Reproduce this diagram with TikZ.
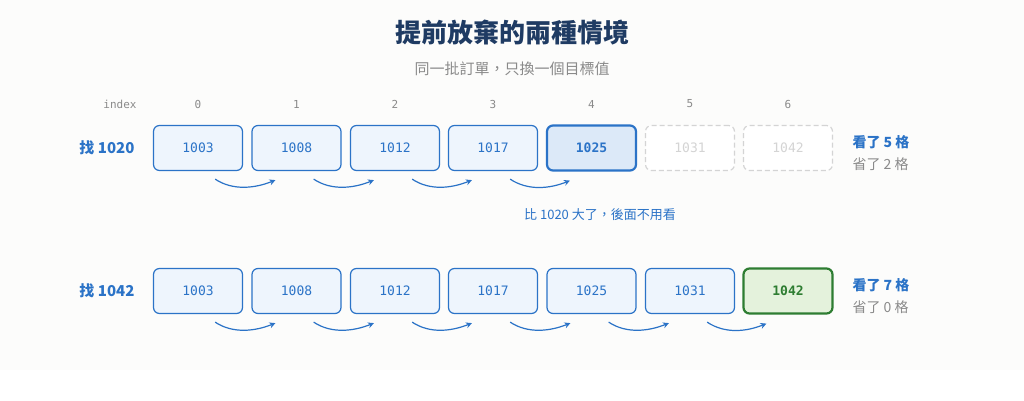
\documentclass[tikz,border=0pt]{standalone}
\usepackage{fontspec}
\setmainfont{Noto Sans CJK TC}
\setmonofont{DejaVu Sans Mono}
\usetikzlibrary{arrows.meta}
\definecolor{blu}{HTML}{2B73C7}
\definecolor{bfill}{HTML}{EEF5FD}
\definecolor{bfill2}{HTML}{DCE9F8}
\definecolor{gfill}{HTML}{E4F2DC}
\definecolor{grn}{HTML}{2E7D32}
\definecolor{gry}{HTML}{8A8A8A}
\definecolor{ghost}{HTML}{D4D4D4}
\definecolor{navy}{HTML}{1F3B63}
\definecolor{canvas}{HTML}{FCFCFB}
\begin{document}
\begin{tikzpicture}[x=1pt,y=-1pt,
 cell/.style={draw=blu,line width=1.2pt,fill=bfill,rounded corners=6pt,minimum width=89pt,minimum height=45pt,font=\ttfamily\fontsize{13}{13}\selectfont,text=blu},
 hit/.style={cell,fill=bfill2,line width=2.2pt,font=\ttfamily\bfseries\fontsize{13}{13}\selectfont},
 found/.style={cell,draw=grn,fill=gfill,text=grn,line width=2.2pt,font=\ttfamily\bfseries\fontsize{13}{13}\selectfont},
 skip/.style={cell,draw=ghost,fill=white,text=ghost,dashed,dash pattern=on 5pt off 3pt},
 idx/.style={font=\ttfamily\fontsize{11}{11}\selectfont,text=gry},
 lab/.style={font=\bfseries\fontsize{15}{15}\selectfont,text=blu,anchor=east},
 hop/.style={draw=blu,line width=1.2pt,-{Stealth[length=6pt,width=6pt]}},
 seen/.style={font=\bfseries\fontsize{14}{14}\selectfont,text=blu,anchor=west},
 saved/.style={font=\fontsize{14}{14}\selectfont,text=gry,anchor=west}]
\useasboundingbox (0,0) rectangle (1024,401);
\fill[white] (0,0) rectangle (1024,401);
\fill[canvas] (0,0) rectangle (1024,370);
\node[font=\bfseries\fontsize{26}{26}\selectfont,text=navy] (title) at (512,33) {提前放棄的兩種情境};
\node[font=\fontsize{15}{15}\selectfont,text=gry] (sub) at (512,69) {同一批訂單，只換一個目標值};
\node[idx] (ix) at (120,104) {index};
\foreach \i/\x in {0/198,1/296.5,2/395,3/493,4/591.5,5/690,6/788}{
  \node[idx] (i\i) at (\x,104) {\i};}
% row 1
\node[lab] (l1) at (138,148) {找 1020};
\node[cell] (a0) at (198,148) {1003};
\node[cell] (a1) at (296.5,148) {1008};
\node[cell] (a2) at (395,148) {1012};
\node[cell] (a3) at (493,148) {1017};
\node[hit] (a4) at (591.5,148) {1025};
\node[skip] (a5) at (690,148) {1031};
\node[skip] (a6) at (788,148) {1042};
\foreach \i/\j in {0/1,1/2,2/3,3/4}{
  \coordinate (s\i) at ([xshift=-28pt,yshift=-8pt]a\i.south east);
  \coordinate (e\i) at ([xshift=24pt,yshift=-9pt]a\j.south west);
  \draw[hop] (s\i) .. controls +(18,12) and +(-20,8) .. (e\i);}
\node[font=\fontsize{13}{13}\selectfont,text=blu] (note) at (600,215) {比 1020 大了，後面不用看};
\node[seen] (v1) at (849,142) {看了 5 格};
\node[saved] (w1) at (849,164) {省了 2 格};
% row 2
\node[lab] (l2) at (138,291) {找 1042};
\node[cell] (b0) at (198,291) {1003};
\node[cell] (b1) at (296.5,291) {1008};
\node[cell] (b2) at (395,291) {1012};
\node[cell] (b3) at (493,291) {1017};
\node[cell] (b4) at (591.5,291) {1025};
\node[cell] (b5) at (690,291) {1031};
\node[found] (b6) at (788,291) {1042};
\foreach \i/\j in {0/1,1/2,2/3,3/4,4/5,5/6}{
  \coordinate (t\i) at ([xshift=-28pt,yshift=-8pt]b\i.south east);
  \coordinate (f\i) at ([xshift=24pt,yshift=-9pt]b\j.south west);
  \draw[hop] (t\i) .. controls +(18,12) and +(-20,8) .. (f\i);}
\node[seen] (v2) at (849,285) {看了 7 格};
\node[saved] (w2) at (849,307) {省了 0 格};
\end{tikzpicture}
\end{document}
